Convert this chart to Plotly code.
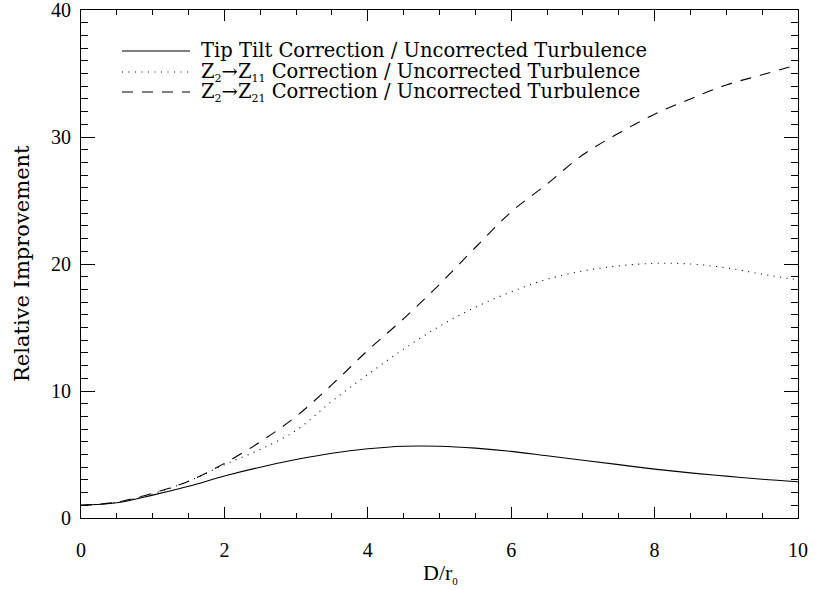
import plotly.graph_objects as go

# values
d_r0 = [0, 0.5, 1, 1.5, 2, 2.5, 3, 3.5, 4, 4.5, 5,
        5.5, 6, 6.5, 7, 7.5, 8, 8.5, 9, 9.5, 10]
tip_tilt = [1.0, 1.2, 1.8, 2.5, 3.3, 4.0, 4.6, 5.1, 5.45, 5.65, 5.65,
            5.5, 5.25, 4.9, 4.55, 4.2, 3.85, 3.55, 3.3, 3.05, 2.85]
z2_z11 = [1.0, 1.25, 1.9, 2.9, 4.2, 5.4, 6.9, 9.2, 11.3, 13.3, 15.1,
          16.6, 17.8, 18.8, 19.45, 19.85, 20.05, 20.0, 19.7, 19.2, 18.75]
z2_z21 = [1.0, 1.25, 1.95, 2.9, 4.3, 6.0, 8.0, 10.5, 13.2, 15.7, 18.4,
          21.3, 24.1, 26.3, 28.6, 30.3, 31.8, 33.0, 34.1, 34.9, 35.7]

SUB = "<sub><span style='font-size:11px'>%s</span></sub>"
legend_labels = [
    "Tip Tilt Correction / Uncorrected Turbulence",
    "Z" + SUB % "2" + "\u2192Z" + SUB % "11" + " Correction / Uncorrected Turbulence",
    "Z" + SUB % "2" + "\u2192Z" + SUB % "21" + " Correction / Uncorrected Turbulence",
]
dashes = ["solid", "1px,5.5px", "11px,9px"]

W, H = 815, 590
L, R, T, B = 81, 17, 10, 72
pw, ph = W - L - R, H - T - B


def px_x(x):
    return (x - L) / pw


def px_y(y):
    return (H - B - y) / ph


fig = go.Figure()
for ys, dash in zip([tip_tilt, z2_z11, z2_z21], dashes):
    fig.add_trace(go.Scatter(x=d_r0, y=ys, mode="lines", line_shape="spline",
                             line=dict(color="black", width=1.1, dash=dash),
                             showlegend=False))

# hand drawn legend, IDL style
rows = [51, 72, 92]
for lab, dash, ry in zip(legend_labels, dashes, rows):
    fig.add_shape(type="line", xref="paper", yref="paper",
                  x0=px_x(122), x1=px_x(190), y0=px_y(ry), y1=px_y(ry),
                  line=dict(color="black", width=1.1, dash=dash))
    fig.add_annotation(xref="paper", yref="paper", x=px_x(199), y=px_y(ry),
                       text=lab, showarrow=False, xanchor="left", yanchor="middle",
                       font=dict(family="DejaVu Serif", size=19.5, color="black"))

fig.add_annotation(xref="paper", yref="paper", x=px_x(22), y=0.5,
                   text="Relative Improvement", textangle=-90, showarrow=False,
                   xanchor="center",
                   font=dict(family="DejaVu Serif", size=21, color="black"))
fig.add_annotation(xref="paper", yref="paper", x=px_x(440), y=px_y(573),
                   text="D/r" + SUB % "0", showarrow=False, yanchor="middle",
                   font=dict(family="Liberation Serif", size=22, color="black"))

axis_common = dict(showgrid=False, zeroline=False, showline=True, linecolor="black",
                   linewidth=1.2, mirror="ticks", ticks="inside", tickcolor="black",
                   automargin=False, ticklabeloverflow="allow",
                   tickfont=dict(family="Liberation Serif", size=20, color="black"))

fig.update_xaxes(range=[0, 10], dtick=2, ticklen=11, tickwidth=1,
                 minor=dict(dtick=0.5, ticklen=5, ticks="inside", tickcolor="black"),
                 ticklabelstandoff=14, **axis_common)
fig.update_yaxes(range=[0, 40], dtick=10, ticklen=14, tickwidth=1,
                 minor=dict(dtick=1, ticklen=7, ticks="inside", tickcolor="black"),
                 ticklabelstandoff=5, **axis_common)

fig.update_layout(width=W, height=H, margin=dict(l=L, r=R, t=T, b=B),
                  plot_bgcolor="white", paper_bgcolor="white")

fig.write_html("out.html", config={"displayModeBar": False},
               post_script="document.body.style.margin='0';")
